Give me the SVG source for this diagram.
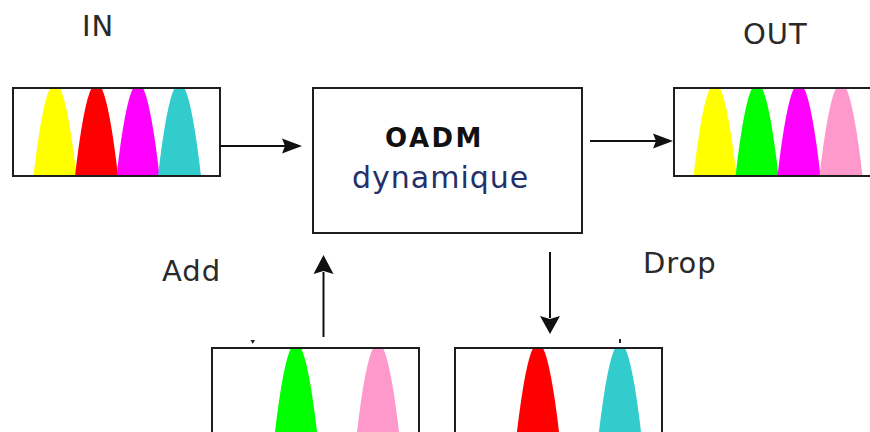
<svg xmlns="http://www.w3.org/2000/svg" xmlns:xlink="http://www.w3.org/1999/xlink" width="870" height="432" viewBox="0 0 870 432">
<style>
.box{fill:none;stroke:#1e1e1e;stroke-width:2}
.lbl{font-family:"DejaVu Sans","Liberation Sans",sans-serif;font-size:29px;fill:#2a2a2a;letter-spacing:1px}
.title{font-family:"DejaVu Sans","Liberation Sans",sans-serif;font-size:26px;font-weight:bold;fill:#111;letter-spacing:2.5px}
.sub{font-family:"DejaVu Sans","Liberation Sans",sans-serif;font-size:30px;fill:#23306a;letter-spacing:1px}
.conn{stroke:#111;stroke-width:2;fill:none}
.head{fill:#111}
</style>
<defs>
<path id="peak" d="M-21.5,88 Q-13.25,16.6 -5,0 L5,0 Q13.25,16.6 21.5,88 Z"/>
</defs>
<rect width="870" height="432" fill="#fff"/>

<g id="in">
<use xlink:href="#peak" x="55" y="88" fill="#ffff00"/>
<use xlink:href="#peak" x="96.5" y="88" fill="#ff0000"/>
<use xlink:href="#peak" x="138" y="88" fill="#ff00ff"/>
<use xlink:href="#peak" x="179.5" y="88" fill="#33cccc"/>
<rect class="box" x="13" y="88" width="207" height="88"/>
<text class="lbl" x="82" y="36">IN</text>
</g>

<g id="oadm">
<rect class="box" x="313" y="88" width="269" height="145"/>
<text class="title" x="385" y="147">OADM</text>
<text class="sub" x="352" y="188">dynamique</text>
</g>

<g id="out">
<use xlink:href="#peak" x="715" y="88" fill="#ffff00"/>
<use xlink:href="#peak" x="757" y="88" fill="#00ff00"/>
<use xlink:href="#peak" x="799" y="88" fill="#ff00ff"/>
<use xlink:href="#peak" x="841" y="88" fill="#ff99cc"/>
<rect class="box" x="674" y="88" width="210" height="88"/>
<text class="lbl" x="743" y="44">OUT</text>
</g>

<g id="add">
<use xlink:href="#peak" x="296" y="348" fill="#00ff00"/>
<use xlink:href="#peak" x="378" y="348" fill="#ff99cc"/>
<rect class="box" x="212" y="348" width="207" height="90"/>
<path d="M250.5,340 L255,340 L252.7,344 Z" fill="#222"/>
<text class="lbl" x="162" y="281">Add</text>
</g>

<g id="drop">
<use xlink:href="#peak" x="538" y="348" fill="#ff0000"/>
<use xlink:href="#peak" x="620" y="348" fill="#33cccc"/>
<rect class="box" x="455" y="348" width="207" height="90"/>
<rect x="619" y="339" width="2" height="4" fill="#222"/>
<text class="lbl" x="643" y="273">Drop</text>
</g>

<g id="connectors">
<line class="conn" x1="220" y1="146" x2="285" y2="146"/>
<path class="head" d="M302,146 L282,138.5 L285,146 L282,153.5 Z"/>
<line class="conn" x1="590" y1="141" x2="656" y2="141"/>
<path class="head" d="M673,141 L653,133.5 L656,141 L653,148.5 Z"/>
<line class="conn" x1="323.5" y1="337" x2="323.5" y2="272"/>
<path class="head" d="M323.5,255 L313.5,274 L323.5,271 L333.5,274 Z"/>
<line class="conn" x1="550" y1="252" x2="550" y2="318"/>
<path class="head" d="M550,334 L540,316 L550,319 L560,316 Z"/>
</g>
</svg>
